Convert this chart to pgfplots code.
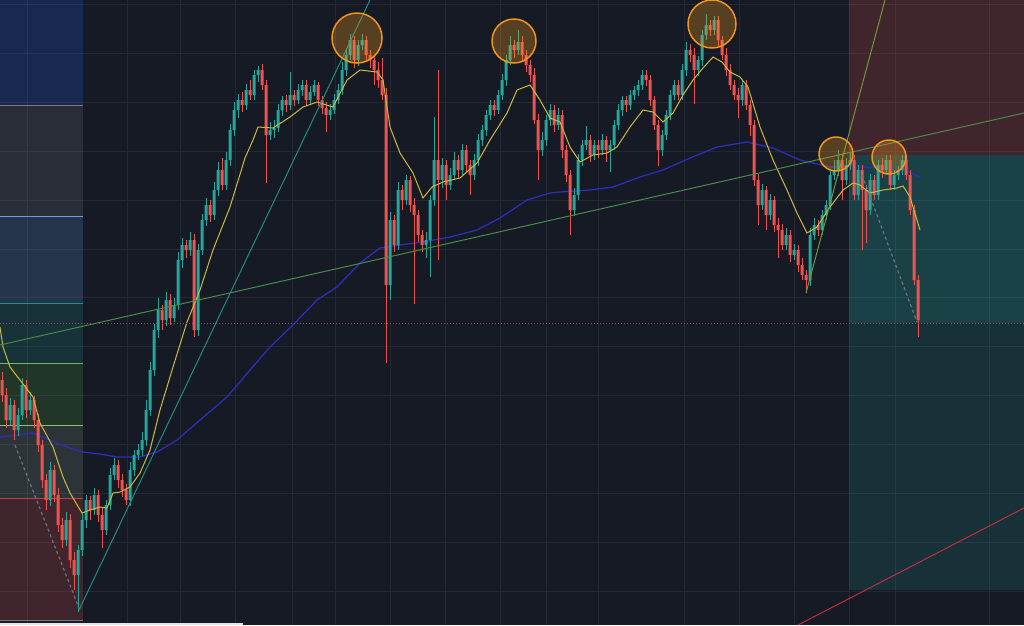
\documentclass[border=0pt]{standalone}
\usepackage{pgfplots}
\pgfplotsset{compat=1.18}
\usepackage{pgfplotstable}
\definecolor{bg}{RGB}{22,26,37}
\definecolor{gridc}{RGB}{36,40,52}
\definecolor{up}{RGB}{38,166,154}
\definecolor{dn}{RGB}{239,83,80}
\definecolor{maY}{RGB}{205,185,60}
\definecolor{maB}{RGB}{45,45,185}
\definecolor{trendG}{RGB}{72,140,72}
\definecolor{trendT}{RGB}{30,140,128}
\definecolor{trendO}{RGB}{110,150,60}
\definecolor{trendR}{RGB}{190,45,65}
\definecolor{dashG}{RGB}{110,115,125}
\definecolor{dotR}{RGB}{150,75,90}
\definecolor{orng}{RGB}{240,150,30}
\definecolor{fibBlue}{RGB}{41,98,255}
\definecolor{fibGray}{RGB}{120,123,134}
\definecolor{fibSky}{RGB}{100,160,230}
\definecolor{fibTeal}{RGB}{30,150,140}
\definecolor{fibGreen}{RGB}{80,170,60}
\definecolor{fibSage}{RGB}{135,160,130}
\pgfplotsset{frame/.style={at={(0,0)}, anchor=south west, scale only axis,
  width=1024pt, height=625pt,
  xmin=0, xmax=1024, ymin=0, ymax=625, y dir=reverse, clip=true}}
\pgfplotstableread{
o h l c
380 372 402 395
395 388 428 420
420 398 425 405
405 400 440 430
430 408 436 415
415 378 420 385
385 380 418 410
410 392 415 400
400 396 428 420
420 414 452 445
445 440 488 480
480 474 510 500
500 462 506 470
470 465 502 495
495 488 532 525
525 518 548 540
540 512 546 520
520 514 568 560
560 552 590 575
575 545 612 550
550 512 556 520
520 495 528 500
500 496 520 510
510 488 515 495
495 490 522 515
515 508 548 530
530 500 535 505
505 468 510 475
475 458 480 465
465 460 488 480
480 474 497 490
490 484 505 500
500 462 506 470
470 450 476 455
455 444 460 450
450 432 456 440
440 400 446 410
410 362 416 370
370 324 376 330
330 298 338 310
310 305 330 320
320 292 326 300
300 294 325 318
318 298 322 305
305 252 310 260
260 238 268 245
245 240 258 250
250 232 256 240
240 234 337 330
330 244 336 250
250 214 255 220
220 198 226 205
205 200 222 215
215 182 220 190
190 162 196 170
170 158 190 185
185 152 190 160
160 124 166 130
130 102 136 110
110 94 118 100
100 92 112 105
105 84 110 90
90 80 100 95
95 70 100 75
75 66 82 70
70 64 90 85
85 80 183 135
135 122 140 130
130 120 138 128
128 104 132 110
110 96 116 100
100 95 112 105
105 72 110 95
95 90 106 100
100 84 104 90
90 80 96 85
85 80 106 100
100 86 104 92
92 80 96 85
85 82 106 100
100 96 114 108
108 102 132 115
115 104 120 110
110 94 114 100
100 84 104 90
90 62 95 70
70 48 76 55
55 34 60 40
40 36 68 60
60 40 66 45
45 34 50 40
40 36 62 55
55 50 68 60
60 55 85 70
70 62 88 80
80 58 100 95
95 88 363 285
285 212 300 220
220 215 252 245
245 182 250 190
190 185 210 200
200 175 205 180
180 176 212 205
205 198 304 215
215 210 242 235
235 230 252 245
245 232 258 240
240 195 277 200
200 117 206 160
160 70 260 180
180 158 188 165
165 160 200 185
185 168 190 175
175 152 180 160
160 155 178 170
170 144 175 150
150 145 172 165
165 160 195 175
175 154 180 160
160 134 166 140
140 125 146 130
130 110 136 115
115 100 120 105
105 100 116 110
110 90 114 95
95 74 100 80
80 55 86 60
60 36 65 45
45 40 58 50
50 30 55 42
42 36 62 55
55 50 72 65
65 60 82 75
75 68 124 120
120 114 180 150
150 132 156 140
140 115 146 120
120 104 126 110
110 105 132 125
125 108 130 115
115 110 158 150
150 145 182 175
175 170 235 210
210 188 216 195
195 154 200 160
160 140 166 145
145 126 150 140
140 135 162 155
155 140 160 145
145 140 158 150
150 134 155 140
140 136 162 150
150 140 172 145
145 120 150 125
125 104 130 110
110 96 116 100
100 96 112 105
105 90 110 95
95 86 100 90
90 80 96 85
85 70 90 75
75 70 86 80
80 75 106 100
100 96 130 125
125 120 166 150
150 130 156 135
135 110 140 115
115 90 120 95
95 80 100 85
85 80 100 95
95 64 100 70
70 42 76 50
50 44 62 55
55 48 104 70
70 56 76 60
60 30 66 35
35 14 40 25
25 20 36 30
30 16 35 20
20 16 46 40
40 36 60 55
55 48 76 70
70 64 90 85
85 80 100 95
95 88 118 100
100 80 106 85
85 80 110 105
105 100 136 125
125 120 186 180
180 174 225 205
205 184 210 190
190 186 230 215
215 194 220 200
200 196 232 225
225 218 258 230
230 224 250 245
245 228 250 235
235 230 262 255
255 244 260 250
250 245 272 265
265 258 280 275
275 270 293 280
280 228 286 235
235 218 240 225
225 220 236 230
230 210 235 215
215 200 220 205
205 170 210 175
175 160 180 170
170 150 176 160
160 155 200 180
180 158 185 165
165 152 170 160
160 155 200 195
195 165 200 170
170 165 250 190
190 185 243 210
210 174 215 180
180 175 200 195
195 160 200 165
165 158 178 170
170 155 175 160
160 155 190 185
185 170 190 175
175 166 180 170
170 155 175 160
160 155 180 175
175 170 215 210
210 205 285 280
280 275 337 320
}\candles
\begin{document}
\begin{tikzpicture}
\path[use as bounding box] (0,0) rectangle (1024pt,625pt);
% ---------- layer 1: background, boxes, long MA, wicks
\begin{axis}[frame,
  axis line style={draw=none}, tick style={draw=none},
  xticklabels={}, yticklabels={},
  xtick={27,127,180,235,292,335,390,445,500,546,598,684,739,794,849,895,989},
  ytick={4,53,102,151,200,249,297,346,395,444,493,542,591},
  grid=major, grid style={gridc, line width=1pt},
  axis background/.style={fill=bg}]
\addplot[draw=none, fill=fibBlue, fill opacity=0.2] coordinates {(0,0) (83,0) (83,105) (0,105)};
\addplot[draw=none, fill=fibGray, fill opacity=0.2] coordinates {(0,105) (83,105) (83,216) (0,216)};
\addplot[draw=none, fill=fibSky, fill opacity=0.2] coordinates {(0,216) (83,216) (83,303) (0,303)};
\addplot[draw=none, fill=fibTeal, fill opacity=0.2] coordinates {(0,303) (83,303) (83,363) (0,363)};
\addplot[draw=none, fill=fibGreen, fill opacity=0.2] coordinates {(0,363) (83,363) (83,425) (0,425)};
\addplot[draw=none, fill=fibSage, fill opacity=0.2] coordinates {(0,425) (83,425) (83,498) (0,498)};
\addplot[draw=none, fill=dn, fill opacity=0.2] coordinates {(0,498) (83,498) (83,620) (0,620)};
\addplot[fibGray, line width=1pt] coordinates {(0,105) (83,105)};
\addplot[fibSky, line width=1pt] coordinates {(0,216) (83,216)};
\addplot[fibTeal, line width=1pt] coordinates {(0,303) (83,303)};
\addplot[fibGreen!80!white, line width=1pt] coordinates {(0,363) (83,363)};
\addplot[fibGreen!70!white, line width=1pt] coordinates {(0,425) (83,425)};
\addplot[dn!80!black, line width=1pt] coordinates {(0,498) (83,498)};
\addplot[fibGray, line width=1pt] coordinates {(0,620) (83,620)};
\addplot[white!80!gray, line width=2pt] coordinates {(0,624) (243,624)};
\addplot[draw=none, fill=dn, fill opacity=0.2] coordinates {(849,0) (1024,0) (1024,155) (849,155)};
\addplot[draw=none, fill=up, fill opacity=0.17] coordinates {(849,155) (1024,155) (1024,590) (849,590)};
\addplot[draw=none, fill=up, fill opacity=0.15] coordinates {(849,155) (1024,155) (1024,323) (849,323)};
\addplot[maB, line width=1.3pt] coordinates {(0,437) (20,435) (33,433) (50,440) (67,447) (83,452) (100,454) (117,457) (140,457) (157,452) (177,440) (200,420) (227,397) (250,370) (270,347) (293,325) (317,300) (337,287) (360,263) (380,248) (400,245) (423,242) (450,237) (477,230) (500,218) (527,200) (550,193) (560,192) (590,190) (613,187) (640,177) (663,170) (690,158) (717,147) (747,142) (773,148) (800,160) (830,167) (857,167) (883,168) (903,170) (920,177)};
\addplot[up, mark=none, forget plot,
  restrict expr to domain={\thisrow{o}-\thisrow{c}}{0.001:1000},
  quiver={u=0, v=\thisrow{l}-\thisrow{h}, every arrow/.append style={-, draw=up, line width=0.8pt}}]
  table[x expr=2+4*\coordindex, y=h] {\candles};
\addplot[dn, mark=none, forget plot,
  restrict expr to domain={\thisrow{c}-\thisrow{o}}{0.001:1000},
  quiver={u=0, v=\thisrow{l}-\thisrow{h}, every arrow/.append style={-, draw=dn, line width=0.8pt}}]
  table[x expr=2+4*\coordindex, y=h] {\candles};
\end{axis}
% ---------- layer 2: candle bodies as stacked bars
\begin{axis}[frame, hide axis, ybar stacked, bar width=3pt]
\addplot[draw=none, fill=none] table[x expr=2+4*\coordindex, y expr={min(\thisrow{o},\thisrow{c})}] {\candles};
\addplot[draw=none, fill=up] table[x expr=2+4*\coordindex, y expr={max(\thisrow{o}-\thisrow{c},0)}] {\candles};
\addplot[draw=none, fill=dn] table[x expr=2+4*\coordindex, y expr={max(\thisrow{c}-\thisrow{o},0)}] {\candles};
\end{axis}
% ---------- layer 3: short MA, trend lines, circles
\begin{axis}[frame, hide axis]
\addplot[maY, line width=1pt] coordinates {(0,327) (3,347) (10,367) (20,380) (33,397) (40,423) (53,447) (63,477) (70,493) (82,513) (90,510) (100,507) (107,508) (113,493) (120,492) (130,487) (140,473) (150,450) (160,410) (173,367) (187,322) (200,290) (213,250) (230,207) (245,158) (253,140) (258,127) (273,128) (290,117) (303,107) (317,102) (333,107) (347,80) (360,70) (377,72) (383,80) (390,127) (400,153) (413,173) (423,198) (432,187) (443,182) (460,178) (477,163) (490,140) (507,113) (517,90) (530,85) (540,100) (550,118) (560,122) (570,147) (580,162) (593,155) (607,153) (617,147) (630,127) (643,110) (653,112) (663,122) (673,113) (683,95) (693,80) (703,68) (713,57) (722,62) (730,72) (740,77) (748,87) (760,127) (773,160) (787,190) (797,213) (807,233) (817,227) (830,207) (843,190) (853,183) (860,185) (870,193) (883,190) (897,188) (903,186) (910,197) (920,230)};
\addplot[trendG, line width=1pt] coordinates {(0,345) (1024,113)};
\addplot[trendT, line width=1pt] coordinates {(79,610) (370,0)};
\addplot[trendO, line width=1pt] coordinates {(806,293) (885,0)};
\addplot[trendR, line width=1pt] coordinates {(798,625) (1024,508)};
\addplot[dashG, line width=1.2pt, dash pattern=on 3pt off 3pt] coordinates {(15,445) (79,608)};
\addplot[dashG, line width=1.2pt, dash pattern=on 3pt off 3pt] coordinates {(862,175) (917,322)};
\addplot[dotR, line width=0.8pt, dash pattern=on 1pt off 2pt] coordinates {(0,323) (1024,323)};
\addplot[only marks, mark=*, mark size=25pt, mark options={draw=orng, fill=orng, fill opacity=0.3, line width=1.5pt}] coordinates {(357,38)};
\addplot[only marks, mark=*, mark size=22pt, mark options={draw=orng, fill=orng, fill opacity=0.3, line width=1.5pt}] coordinates {(514,41)};
\addplot[only marks, mark=*, mark size=24pt, mark options={draw=orng, fill=orng, fill opacity=0.3, line width=1.5pt}] coordinates {(712,24)};
\addplot[only marks, mark=*, mark size=17pt, mark options={draw=orng, fill=orng, fill opacity=0.3, line width=1.5pt}] coordinates {(836,154) (889,157)};
\end{axis}
\end{tikzpicture}
\end{document}
